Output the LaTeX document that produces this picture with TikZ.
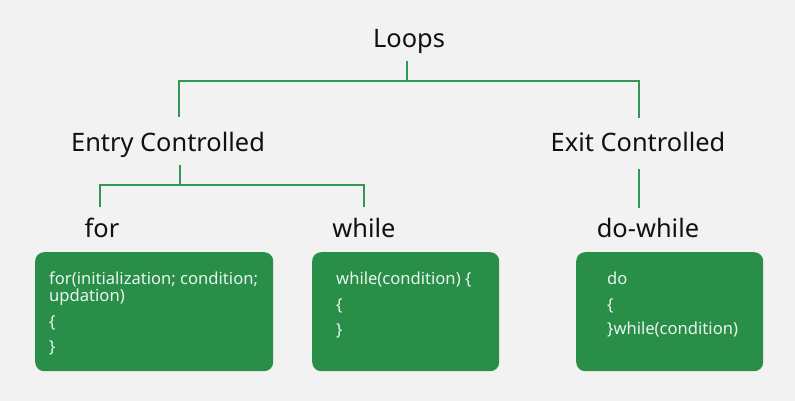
\documentclass[tikz,border=0pt]{standalone}
\usepackage{fontspec}
\setmainfont{Noto Sans}
\definecolor{bg}{HTML}{F2F2F2}
\definecolor{gline}{HTML}{35965A}
\definecolor{gbox}{HTML}{288E48}
\definecolor{codetext}{HTML}{EAF6EC}
\definecolor{headtext}{HTML}{111111}
\tikzset{
  head/.style={inner sep=0pt, text height=17pt, text depth=5pt, anchor=base,
    text=headtext, font=\fontsize{25.4}{29}\selectfont},
  conn/.style={draw=gline, line width=2pt},
  codebox/.style={fill=gbox, draw=none, rounded corners=9pt, inner sep=0pt,
    anchor=north west},
  codeline/.style={inner sep=0pt, anchor=base west, text=codetext,
    font=\fontsize{16.6}{17}\selectfont}
}
\begin{document}
\begin{tikzpicture}[x=1pt,y=-1pt]
\fill[bg] (0,0) rectangle (795,401);
\useasboundingbox (0,0) rectangle (795,401);

% headings
\node[head] (loops) at (409,48) {Loops};
\node[head] (entry) at (168,151) {Entry Controlled};
\node[head] (exit) at (638,151) {Exit Controlled};
\node[head] (for) at (102,237) {for};
\node[head] (while) at (364,237) {while};
\node[head] (dowhile) at (648,237) {do-while};

% connectors
\draw[conn] ([xshift=-2pt,yshift=-8pt]loops.south) -- ++(0,20) coordinate (j1);
\draw[conn] ([xshift=11pt,yshift=17pt]entry.north) |- (j1) -| ([xshift=1pt,yshift=16pt]exit.north);
\draw[conn] ([xshift=12pt,yshift=-9pt]entry.south) -- ++(0,20) coordinate (j2);
\draw[conn] ([xshift=-2pt,yshift=13pt]for.north) |- (j2) -| ([yshift=13pt]while.north);
\draw[conn] ([xshift=1pt,yshift=-13pt]exit.south) -- ([xshift=-9pt,yshift=12pt]dowhile.north);

% boxes
\node[codebox, minimum width=238pt, minimum height=119pt] (forbox) at (35,252) {};
\node[codebox, minimum width=187pt, minimum height=119pt] (whilebox) at (312,252) {};
\node[codebox, minimum width=187pt, minimum height=119pt] (dowhilebox) at (576,252) {};

% for box text
\node[codeline] (f1) at ([shift={(14,32)}]forbox.north west) {for(initialization; condition;};
\node[codeline] (f2) at ([shift={(14,49)}]forbox.north west) {updation)};
\node[codeline] (f3) at ([shift={(14,75)}]forbox.north west) {\{};
\node[codeline] (f4) at ([shift={(14,100)}]forbox.north west) {\}};

% while box text
\node[codeline] (w1) at ([shift={(24,32)}]whilebox.north west) {while(condition) \{};
\node[codeline] (w2) at ([shift={(24,58)}]whilebox.north west) {\{};
\node[codeline] (w3) at ([shift={(24,83)}]whilebox.north west) {\}};

% do-while box text
\node[codeline] (d1) at ([shift={(31,32)}]dowhilebox.north west) {do};
\node[codeline] (d2) at ([shift={(31,58)}]dowhilebox.north west) {\{};
\node[codeline] (d3) at ([shift={(31,82)}]dowhilebox.north west) {\}while(condition)};
\end{tikzpicture}
\end{document}
